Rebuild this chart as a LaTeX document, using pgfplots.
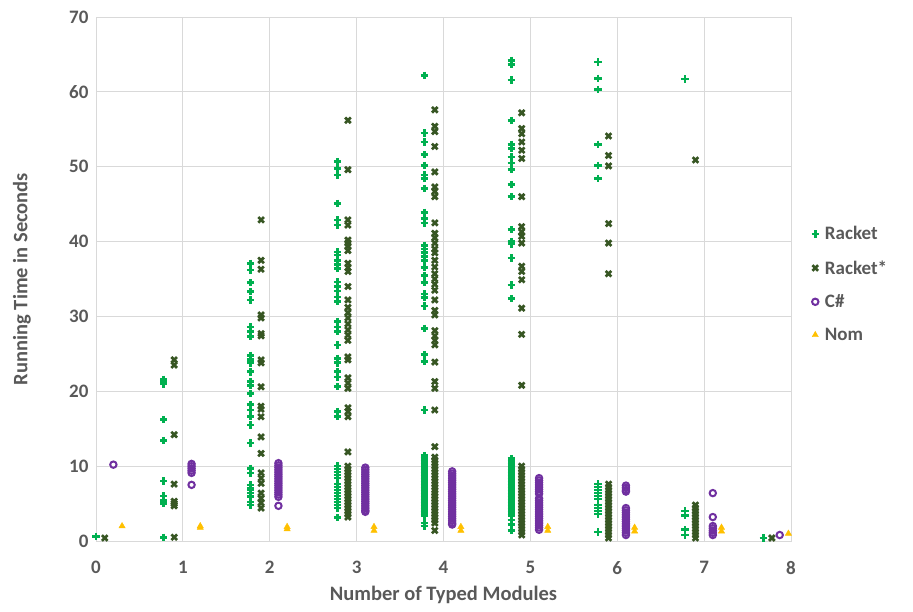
\documentclass[border=0pt]{standalone}
\usepackage{fontspec}
\setmainfont{Carlito}
\usepackage{pgfplots}
\pgfplotsset{compat=1.18}
\definecolor{rk}{HTML}{00B050}
\definecolor{rks}{HTML}{375623}
\definecolor{cs}{HTML}{7030A0}
\definecolor{nom}{HTML}{FFC000}
\definecolor{txt}{HTML}{595959}
\definecolor{grd}{HTML}{D9D9D9}
\begin{document}
\begin{tikzpicture}
\useasboundingbox (0pt,0pt) rectangle (913pt,611pt);
\begin{axis}[
  at={(96pt,70pt)}, anchor=origin,
  width=695pt, height=524pt, scale only axis,
  xmin=0, xmax=8, ymin=0, ymax=70,
  xtick={0,1,...,8}, ytick={0,10,...,70},
  grid=major, major grid style={grd, line width=0.8pt},
  axis line style={grd, line width=0.8pt},
  tick style={draw=none},
  clip=false,
  /pgf/number format/assume math mode=true,
  ticklabel style={font=\fontsize{19}{19}\selectfont\bfseries, text=txt},
  xticklabel style={yshift=-17pt},
  yticklabel style={xshift=-4pt},
  xlabel={Number of Typed Modules},
  ylabel={Running Time in Seconds},
  label style={font=\fontsize{20.5}{20.5}\selectfont\bfseries, text=txt},
  xlabel style={at={(axis description cs:0.5,-0.103)}, anchor=center},
  ylabel style={at={(axis description cs:-0.1065,0.5)}, anchor=center},
  legend style={at={(axis description cs:1.025,0.49)}, anchor=west, draw=none, fill=none,
    font=\fontsize{19}{19}\selectfont\bfseries, text=txt, row sep=15pt,
    nodes={inner xsep=6pt}},
  legend cell align=left,
]
\addplot[only marks, mark=+, mark size=3.7pt, line width=2.7pt, color=rk] coordinates {
(0.0,0.6)
(0.78,21.6)(0.78,21.2)(0.78,21.0)(0.78,16.2)(0.78,13.4)(0.78,8.0)(0.78,6.0)(0.78,5.4)(0.78,5.0)(0.78,0.5)
(1.78,37.1)(1.78,36.2)(1.78,34.5)(1.78,33.3)(1.78,32.2)(1.78,28.6)(1.78,28.0)(1.78,27.3)(1.78,24.8)(1.78,24.2)(1.78,23.8)(1.78,22.6)(1.78,21.3)(1.78,20.8)(1.78,19.7)(1.78,18.2)(1.78,17.5)(1.78,16.6)(1.78,15.5)(1.78,13.1)(1.78,9.7)(1.78,9.1)(1.78,7.5)(1.78,7.1)(1.78,6.8)(1.78,6.4)(1.78,5.9)(1.78,5.2)(1.78,4.8)
(2.78,50.7)(2.78,49.8)(2.78,48.9)(2.78,45.1)(2.78,42.9)(2.78,42.2)(2.78,38.6)(2.78,38.2)(2.78,37.5)(2.78,36.9)(2.78,36.4)(2.78,34.6)(2.78,34.0)(2.78,33.4)(2.78,32.6)(2.78,32.0)(2.78,29.3)(2.78,28.6)(2.78,28.0)(2.78,26.2)(2.78,24.4)(2.78,23.8)(2.78,22.6)(2.78,21.9)(2.78,20.6)(2.78,17.3)(2.78,16.6)
(2.78,10.0)(2.78,9.6)(2.78,9.2)(2.78,8.8)(2.78,8.4)(2.78,7.6)(2.78,7.2)(2.78,6.8)(2.78,6.4)(2.78,6.0)(2.78,5.6)(2.78,5.2)(2.78,4.8)(2.78,4.4)(2.78,3.1)
(3.78,62.2)(3.78,54.5)(3.78,53.3)(3.78,51.6)(3.78,50.2)(3.78,48.9)(3.78,48.4)(3.78,47.1)(3.78,43.9)(3.78,43.1)(3.78,42.5)(3.78,39.5)(3.78,39.0)(3.78,38.5)(3.78,38.0)(3.78,37.5)(3.78,36.5)(3.78,35.5)(3.78,34.5)(3.78,33.0)(3.78,32.5)(3.78,31.4)(3.78,28.4)(3.78,24.9)(3.78,24.0)(3.78,17.5)
(3.78,11.4)(3.78,11.0)(3.78,10.6)(3.78,10.2)(3.78,9.8)(3.78,9.4)(3.78,9.0)(3.78,8.6)(3.78,8.2)(3.78,7.8)(3.78,7.4)(3.78,7.0)(3.78,6.6)(3.78,6.2)(3.78,5.8)(3.78,5.4)(3.78,5.0)(3.78,4.6)(3.78,4.2)(3.78,3.8)(3.78,3.4)(3.78,2.4)(3.78,2.0)
(4.78,64.2)(4.78,63.7)(4.78,61.6)(4.78,56.2)(4.78,53.0)(4.78,52.4)(4.78,51.3)(4.78,50.5)(4.78,49.6)(4.78,47.6)(4.78,46.0)(4.78,41.6)(4.78,40.0)(4.78,39.7)(4.78,37.8)(4.78,34.2)(4.78,32.4)
(4.78,11.0)(4.78,10.6)(4.78,10.2)(4.78,9.8)(4.78,9.4)(4.78,9.0)(4.78,8.6)(4.78,8.2)(4.78,7.8)(4.78,7.4)(4.78,7.0)(4.78,6.6)(4.78,6.2)(4.78,5.8)(4.78,5.4)(4.78,5.0)(4.78,4.6)(4.78,4.2)(4.78,3.8)(4.78,3.4)(4.78,2.8)(4.78,2.2)(4.78,1.4)
(5.78,64.0)(5.78,61.8)(5.78,60.3)(5.78,53.0)(5.78,50.2)(5.78,48.4)
(5.78,7.6)(5.78,7.2)(5.78,6.8)(5.78,6.4)(5.78,6.0)(5.78,5.6)(5.78,4.8)(5.78,4.4)(5.78,4.0)(5.78,3.6)(5.78,1.2)
(6.78,61.7)(6.78,4.0)(6.78,3.4)(6.78,1.5)(6.78,0.8)
(7.68,0.4)
};
\addlegendentry{Racket}
\addplot[only marks, mark=x, mark size=4pt, line width=2.7pt, color=rks] coordinates {
(0.1,0.4)
(0.9,24.2)(0.9,23.5)(0.9,14.2)(0.9,7.6)(0.9,5.3)(0.9,5.0)(0.9,4.7)(0.9,0.5)
(1.9,42.9)(1.9,37.5)(1.9,36.3)(1.9,30.2)(1.9,29.8)(1.9,27.7)(1.9,27.4)(1.9,24.2)(1.9,23.8)(1.9,20.6)(1.9,18.0)(1.9,17.6)(1.9,16.6)(1.9,13.9)(1.9,11.7)(1.9,9.1)(1.9,8.4)(1.9,7.7)(1.9,6.4)(1.9,5.7)(1.9,5.1)(1.9,4.4)
(2.9,56.2)(2.9,49.6)(2.9,42.9)(2.9,42.2)(2.9,40.2)(2.9,39.8)(2.9,39.4)(2.9,38.8)(2.9,37.1)(2.9,36.5)(2.9,36.0)(2.9,34.0)(2.9,32.2)(2.9,31.2)(2.9,30.5)(2.9,29.8)(2.9,29.0)(2.9,28.2)(2.9,27.5)(2.9,26.8)(2.9,24.6)(2.9,24.2)(2.9,21.8)(2.9,21.1)(2.9,20.4)(2.9,17.8)(2.9,17.3)(2.9,16.6)(2.9,11.9)
(2.9,10.0)(2.9,9.6)(2.9,9.2)(2.9,8.8)(2.9,8.4)(2.9,8.0)(2.9,7.6)(2.9,7.2)(2.9,6.8)(2.9,6.4)(2.9,6.0)(2.9,5.6)(2.9,5.2)(2.9,4.8)(2.9,4.4)(2.9,4.0)(2.9,3.6)(2.9,3.2)
(3.9,57.6)(3.9,55.4)(3.9,54.7)(3.9,52.7)(3.9,49.3)(3.9,47.3)(3.9,46.7)(3.9,46.0)(3.9,42.5)(3.9,41.1)(3.9,40.5)(3.9,39.8)(3.9,39.0)(3.9,38.5)(3.9,37.5)(3.9,36.6)(3.9,35.7)(3.9,35.0)(3.9,34.3)(3.9,33.5)(3.9,32.2)(3.9,30.8)(3.9,30.2)(3.9,28.1)(3.9,27.4)(3.9,26.8)(3.9,26.2)(3.9,23.9)(3.9,21.3)(3.9,20.4)(3.9,17.5)(3.9,12.6)
(3.9,11.2)(3.9,10.8)(3.9,10.4)(3.9,10.0)(3.9,9.6)(3.9,9.2)(3.9,8.8)(3.9,8.4)(3.9,8.0)(3.9,7.6)(3.9,7.2)(3.9,6.8)(3.9,6.4)(3.9,6.0)(3.9,5.6)(3.9,5.2)(3.9,4.8)(3.9,4.4)(3.9,4.0)(3.9,3.6)(3.9,3.2)(3.9,2.8)(3.9,2.4)(3.9,1.4)
(4.9,57.2)(4.9,55.1)(4.9,54.4)(4.9,53.3)(4.9,52.2)(4.9,51.1)(4.9,46.0)(4.9,42.0)(4.9,41.3)(4.9,40.7)(4.9,39.8)(4.9,36.7)(4.9,36.0)(4.9,34.9)(4.9,31.1)(4.9,27.6)(4.9,20.8)
(4.9,10.0)(4.9,9.6)(4.9,9.2)(4.9,8.8)(4.9,8.4)(4.9,8.0)(4.9,7.6)(4.9,7.2)(4.9,6.8)(4.9,6.4)(4.9,6.0)(4.9,5.6)(4.9,5.2)(4.9,4.8)(4.9,4.4)(4.9,4.0)(4.9,3.6)(4.9,3.2)(4.9,2.8)(4.9,2.4)(4.9,2.0)(4.9,1.6)(4.9,1.2)(4.9,0.8)
(5.9,54.1)(5.9,51.5)(5.9,50.1)(5.9,42.4)(5.9,39.8)(5.9,35.7)
(5.9,7.6)(5.9,7.2)(5.9,6.8)(5.9,6.4)(5.9,6.0)(5.9,5.6)(5.9,5.2)(5.9,4.8)(5.9,4.4)(5.9,4.0)(5.9,3.6)(5.9,3.2)(5.9,2.8)(5.9,2.4)(5.9,2.0)(5.9,1.6)(5.9,1.2)(5.9,0.8)(5.9,0.4)
(6.9,50.9)(6.9,4.8)(6.9,4.4)(6.9,4.0)(6.9,3.6)(6.9,3.2)(6.9,2.8)(6.9,2.4)(6.9,2.0)(6.9,1.6)(6.9,1.2)(6.9,0.8)(6.9,0.4)
(7.78,0.4)
};
\addlegendentry{Racket*}
\addplot[only marks, mark=o, mark size=3.2pt, line width=2pt, color=cs] coordinates {
(0.2,10.2)
(1.1,10.3)(1.1,10.0)(1.1,9.7)(1.1,9.4)(1.1,9.1)(1.1,7.5)
(2.1,10.4)(2.1,10.1)(2.1,9.8)(2.1,9.5)(2.1,9.2)(2.1,8.9)(2.1,8.6)(2.1,8.3)(2.1,8.0)(2.1,7.7)(2.1,7.4)(2.1,7.1)(2.1,6.8)(2.1,6.5)(2.1,6.2)(2.1,5.9)(2.1,4.7)
(3.1,9.8)(3.1,9.5)(3.1,9.2)(3.1,8.9)(3.1,8.6)(3.1,8.3)(3.1,8.0)(3.1,7.7)(3.1,7.4)(3.1,7.1)(3.1,6.8)(3.1,6.5)(3.1,6.2)(3.1,5.9)(3.1,5.6)(3.1,5.3)(3.1,5.0)(3.1,4.7)(3.1,4.4)(3.1,4.1)(3.1,3.9)
(4.1,9.3)(4.1,9.0)(4.1,8.7)(4.1,8.4)(4.1,8.1)(4.1,7.8)(4.1,7.5)(4.1,7.2)(4.1,6.9)(4.1,6.6)(4.1,6.3)(4.1,6.0)(4.1,5.7)(4.1,5.4)(4.1,5.1)(4.1,4.8)(4.1,4.5)(4.1,4.2)(4.1,3.9)(4.1,3.6)(4.1,3.3)(4.1,3.0)(4.1,2.7)(4.1,2.4)(4.1,2.2)
(5.1,8.4)(5.1,8.1)(5.1,7.8)(5.1,7.5)(5.1,7.2)(5.1,6.9)(5.1,6.6)(5.1,6.3)(5.1,5.7)(5.1,5.4)(5.1,5.1)(5.1,4.8)(5.1,4.5)(5.1,4.2)(5.1,3.9)(5.1,3.6)(5.1,3.3)(5.1,3.0)(5.1,2.7)(5.1,2.4)(5.1,2.1)(5.1,1.8)(5.1,1.5)
(6.1,7.4)(6.1,7.1)(6.1,6.8)(6.1,6.6)(6.1,4.4)(6.1,4.1)(6.1,3.8)(6.1,3.5)(6.1,3.2)(6.1,2.9)(6.1,2.6)(6.1,2.3)(6.1,2.0)(6.1,1.7)(6.1,1.4)(6.1,1.1)(6.1,0.8)
(7.1,6.4)(7.1,3.2)(7.1,2.0)(7.1,1.7)(7.1,1.4)(7.1,1.1)(7.1,0.8)
(7.87,0.8)
};
\addlegendentry{C\#}
\addplot[only marks, mark=triangle*, mark size=3.6pt, color=nom] coordinates {
(0.3,2.0)(1.2,2.0)(1.2,1.8)(2.2,1.9)(2.2,1.6)(3.2,1.9)(3.2,1.4)(4.2,1.9)(4.2,1.4)
(5.2,1.9)(5.2,1.4)(6.2,1.8)(6.2,1.3)(7.2,1.8)(7.2,1.3)(7.97,1.0)
};
\addlegendentry{Nom}
\end{axis}
\end{tikzpicture}
\end{document}
